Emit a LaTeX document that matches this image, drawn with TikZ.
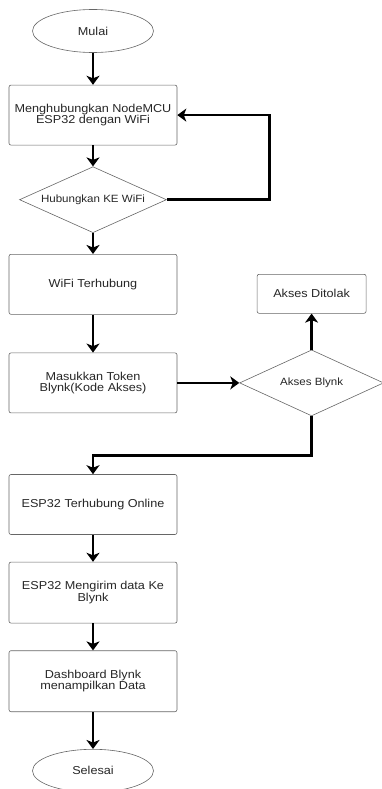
\documentclass[tikz,border=0pt]{standalone}
\usepackage{fontspec}
\setmainfont{Liberation Sans}[FakeStretch=1.1]
\usetikzlibrary{shapes.geometric}
\usetikzlibrary{positioning}
\usetikzlibrary{arrows.meta}
\tikzset{x=1pt, y=-1pt, node distance=21pt,
      every node/.style={font=\fontsize{11.5pt}{11.5pt}\selectfont, text=black!85},
      process/.style={draw=black!60, line width=0.6pt, rounded corners=2pt,
      minimum width=168pt, minimum height=60pt, inner sep=2pt, align=center},
      terminal/.style={ellipse, draw=black!60, line width=0.6pt,
      minimum width=121pt, minimum height=43pt, inner sep=1pt},
      decision/.style={diamond, draw=black!60, line width=0.6pt, aspect=2.2,
      minimum width=147pt, minimum height=66pt, inner sep=1pt,
      font=\fontsize{10.5pt}{10.5pt}\selectfont},
      flow/.style={draw=black, line width=2.8pt,
      -{Stealth[length=9pt,width=13pt,inset=2.5pt]}}}

\begin{document}
\begin{tikzpicture}
          \useasboundingbox (0,0) rectangle (382,789);
          \node[terminal] (mulai) at (93,31) {Mulai};
          \node[process, below=32pt of mulai] (konek) {Menghubungkan NodeMCU\\ESP32 dengan WiFi};
          \node[decision, below=of konek] (cekwifi) {Hubungkan KE WiFi};
          \node[process, below=of cekwifi] (wifiok) {WiFi Terhubung};
          \node[process, below=38pt of wifiok] (token) {Masukkan Token\\Blynk(Kode Akses)};
          \node[decision, right=62pt of token, minimum width=144pt] (cekblynk) {Akses Blynk};
          \node[process, above=36pt of cekblynk, minimum width=109pt, minimum height=39pt] (tolak) {Akses Ditolak};
          \node[process, below=61pt of token] (online) {ESP32 Terhubung Online};
          \node[process, below=27pt of online, minimum height=61pt] (kirim) {ESP32 Mengirim data Ke\\Blynk};
          \node[process, below=27pt of kirim, minimum height=61pt] (dashboard) {Dashboard Blynk\\menampilkan Data};
          \node[terminal, below=37pt of dashboard] (selesai) {Selesai};
          \draw[flow] (mulai) -- (konek);
          \draw[flow] (konek) -- (cekwifi);
          \draw[flow] (cekwifi.east) -- ++(103,0) |- (konek.east);
          \draw[flow] (cekwifi) -- (wifiok);
          \draw[flow] (wifiok) -- (token);
          \draw[flow] (token) -- (cekblynk);
          \draw[flow] (cekblynk) -- (tolak);
          \draw[flow] (cekblynk.south) -- ++(0,39) -| (online.north);
          \draw[flow] (online) -- (kirim);
          \draw[flow] (kirim) -- (dashboard);
          \draw[flow] (dashboard) -- (selesai);
       \end{tikzpicture}
\end{document}
